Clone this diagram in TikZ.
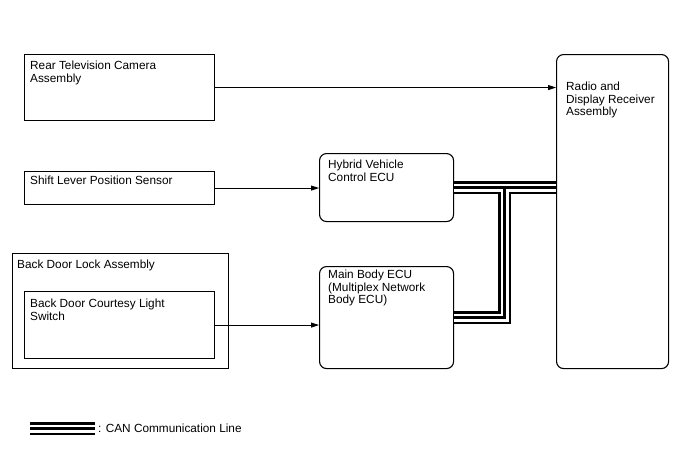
\documentclass[tikz,border=0pt]{standalone}
\usepackage{fontspec}
\setmainfont{Liberation Sans}
\usetikzlibrary{arrows.meta,positioning}

\begin{document}
\begin{tikzpicture}[
  x=1pt, y=-1pt, >={Triangle[length=8pt, width=5pt]},
  partbox/.style={rectangle, draw, line width=1.1pt, anchor=north west, inner sep=0pt},
  ecubox/.style={partbox, rounded corners=7pt},
  boxtext/.style={anchor=north west, align=left, inner sep=0pt, font=\fontsize{11.8}{12.6}\selectfont},
  sig/.style={draw, line width=0.9pt, ->},
  canouter/.style={draw, black, line width=13pt},
  cangap/.style={draw, white, line width=8pt},
  cancore/.style={draw, black, line width=2.6pt}
]

  % Frame
  \useasboundingbox (0,0) rectangle (688,463);

  % ==================== SENDERS (left) ====================
  \node[partbox, minimum width=190pt, minimum height=66pt,
    label={[boxtext, xshift=6pt, yshift=-7pt]north west:Rear Television Camera\\Assembly}]
    (camera) at (24,54) {};
  \node[partbox, minimum width=190pt, minimum height=33pt,
    label={[boxtext, xshift=6pt, yshift=-5pt]north west:Shift Lever Position Sensor}]
    (shift) at (24,171) {};
  \node[partbox, minimum width=216pt, minimum height=115pt,
    label={[boxtext, xshift=5pt, yshift=-7pt]north west:Back Door Lock Assembly}]
    (backdoor) at (12,253) {};
  \node[partbox, minimum width=190pt, minimum height=67pt,
    label={[boxtext, xshift=6pt, yshift=-8pt]north west:Back Door Courtesy Light\\Switch}]
    (courtesy) at (24,291) {};

  % ==================== ECUs ====================
  \node[ecubox, minimum width=134pt, minimum height=68pt,
    label={[boxtext, xshift=9pt, yshift=-7pt]north west:Hybrid Vehicle\\Control ECU}]
    (hybrid) at (319,153) {};
  \node[ecubox, minimum width=134pt, minimum height=102pt,
    label={[boxtext, xshift=9pt, yshift=-4pt]north west:Main Body ECU\\(Multiplex Network\\Body ECU)}]
    (mainbody) at (319,266) {};
  \node[ecubox, minimum width=112pt, minimum height=314pt,
    label={[boxtext, xshift=10pt, yshift=-28pt]north west:Radio and\\Display Receiver\\Assembly}]
    (radio) at (556,54) {};

  % Signal lines
  \draw[sig] (camera.east) -- (camera.east -| radio.west);
  \draw[sig] (shift.east) -- (shift.east -| hybrid.west);
  \draw[sig] (courtesy.east) -- (courtesy.east -| mainbody.west);

  % CAN bus (three passes so the branch joins cleanly)
  \coordinate (canjoin) at (504.5,0 |- hybrid.east);
  \draw[canouter] (hybrid.east) -- (hybrid.east -| radio.west) (canjoin) |- (mainbody.east);
  \draw[cangap] (hybrid.east) -- (hybrid.east -| radio.west) (canjoin) |- (mainbody.east);
  \draw[cancore] (hybrid.east) -- (hybrid.east -| radio.west) (canjoin) |- (mainbody.east);

  % Legend
  \coordinate (legstart) at (30,428.5);
  \coordinate (legend) at (95,428.5);
  \draw[canouter] (legstart) -- (legend);
  \draw[cangap] (legstart) -- (legend);
  \draw[cancore] (legstart) -- (legend);
  \node[boxtext, anchor=west] (legtext) at (98,428) {: CAN Communication Line};

\end{tikzpicture}
\end{document}
